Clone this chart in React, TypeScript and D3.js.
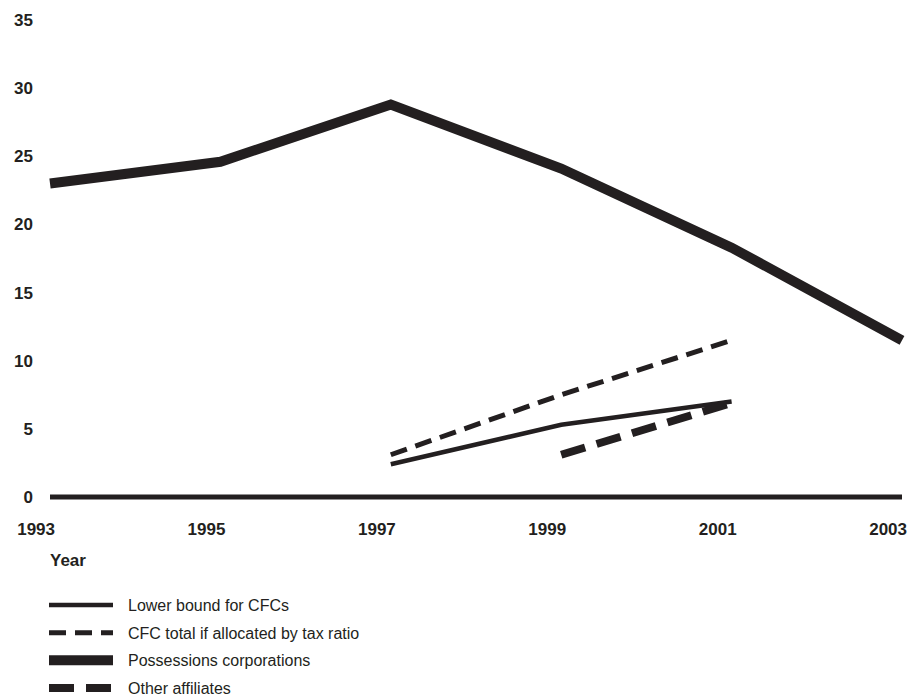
import React from "react";
import * as d3 from "d3";

const years = [1993, 1995, 1997, 1999, 2001, 2003];
const yTicks = [0, 5, 10, 15, 20, 25, 30, 35];

const possessionsYears = [1993, 1995, 1997, 1999, 2001, 2003];
const possessionsValues = [23.0, 24.6, 28.8, 24.1, 18.3, 11.5];

const lowerBoundYears = [1997, 1999, 2001];
const lowerBoundValues = [2.4, 5.3, 7.0];

const taxRatioYears = [1997, 1999, 2001];
const taxRatioValues = [3.1, 7.5, 11.5];

const otherYears = [1999, 2001];
const otherValues = [3.1, 6.9];

const legendLabels = [
  "Lower bound for CFCs",
  "CFC total if allocated by tax ratio",
  "Possessions corporations",
  "Other affiliates",
];

const INK = "#231f20";

type Style = { width: number; dash?: string };
const styles: Style[] = [
  { width: 4.5 },
  { width: 5, dash: "17,9" },
  { width: 10 },
  { width: 8, dash: "25,12" },
];

export default function App() {
  const x = d3.scaleLinear().domain([1993, 2003]).range([50, 902]);
  const y = d3.scaleLinear().domain([0, 35]).range([497, 20]);
  const line = d3
    .line<[number, number]>()
    .x((d) => x(d[0]))
    .y((d) => y(d[1]));

  const series = [
    { ys: lowerBoundYears, vs: lowerBoundValues, s: styles[0] },
    { ys: taxRatioYears, vs: taxRatioValues, s: styles[1] },
    { ys: possessionsYears, vs: possessionsValues, s: styles[2] },
    { ys: otherYears, vs: otherValues, s: styles[3] },
  ];

  const legendY = d3.scaleLinear().domain([0, 3]).range([605, 688]);

  return (
    <svg
      width={920}
      height={700}
      style={{ position: "absolute", left: 0, top: 0, background: "#fff" }}
      fontFamily="'Liberation Sans', Arial, sans-serif"
    >
      {yTicks.map((t) => (
        <text
          key={t}
          x={33}
          y={y(t) + 6}
          textAnchor="end"
          fontSize={17}
          fontWeight="bold"
          fill={INK}
        >
          {t}
        </text>
      ))}
      <line
        x1={x(1993)}
        x2={x(2003)}
        y1={y(0)}
        y2={y(0)}
        stroke={INK}
        strokeWidth={5}
      />
      {years.map((yr) => (
        <text
          key={yr}
          x={x(yr) + 5}
          y={535}
          textAnchor="end"
          fontSize={17}
          fontWeight="bold"
          fill={INK}
        >
          {yr}
        </text>
      ))}
      <text x={50} y={566} fontSize={17} fontWeight="bold" fill={INK}>
        Year
      </text>
      {series.map((sr, i) => (
        <path
          key={i}
          d={line(sr.ys.map((yr, j) => [yr, sr.vs[j]] as [number, number])) || ""}
          fill="none"
          stroke={INK}
          strokeWidth={sr.s.width}
          strokeDasharray={sr.s.dash}
          strokeLinejoin="miter"
          strokeLinecap="butt"
        />
      ))}
      {legendLabels.map((lab, i) => (
        <g key={lab}>
          <line
            x1={49}
            x2={113}
            y1={legendY(i)}
            y2={legendY(i)}
            stroke={INK}
            strokeWidth={styles[i].width}
            strokeDasharray={styles[i].dash}
          />
          <text x={128} y={legendY(i) + 6} fontSize={16} fill={INK}>
            {lab}
          </text>
        </g>
      ))}
    </svg>
  );
}
